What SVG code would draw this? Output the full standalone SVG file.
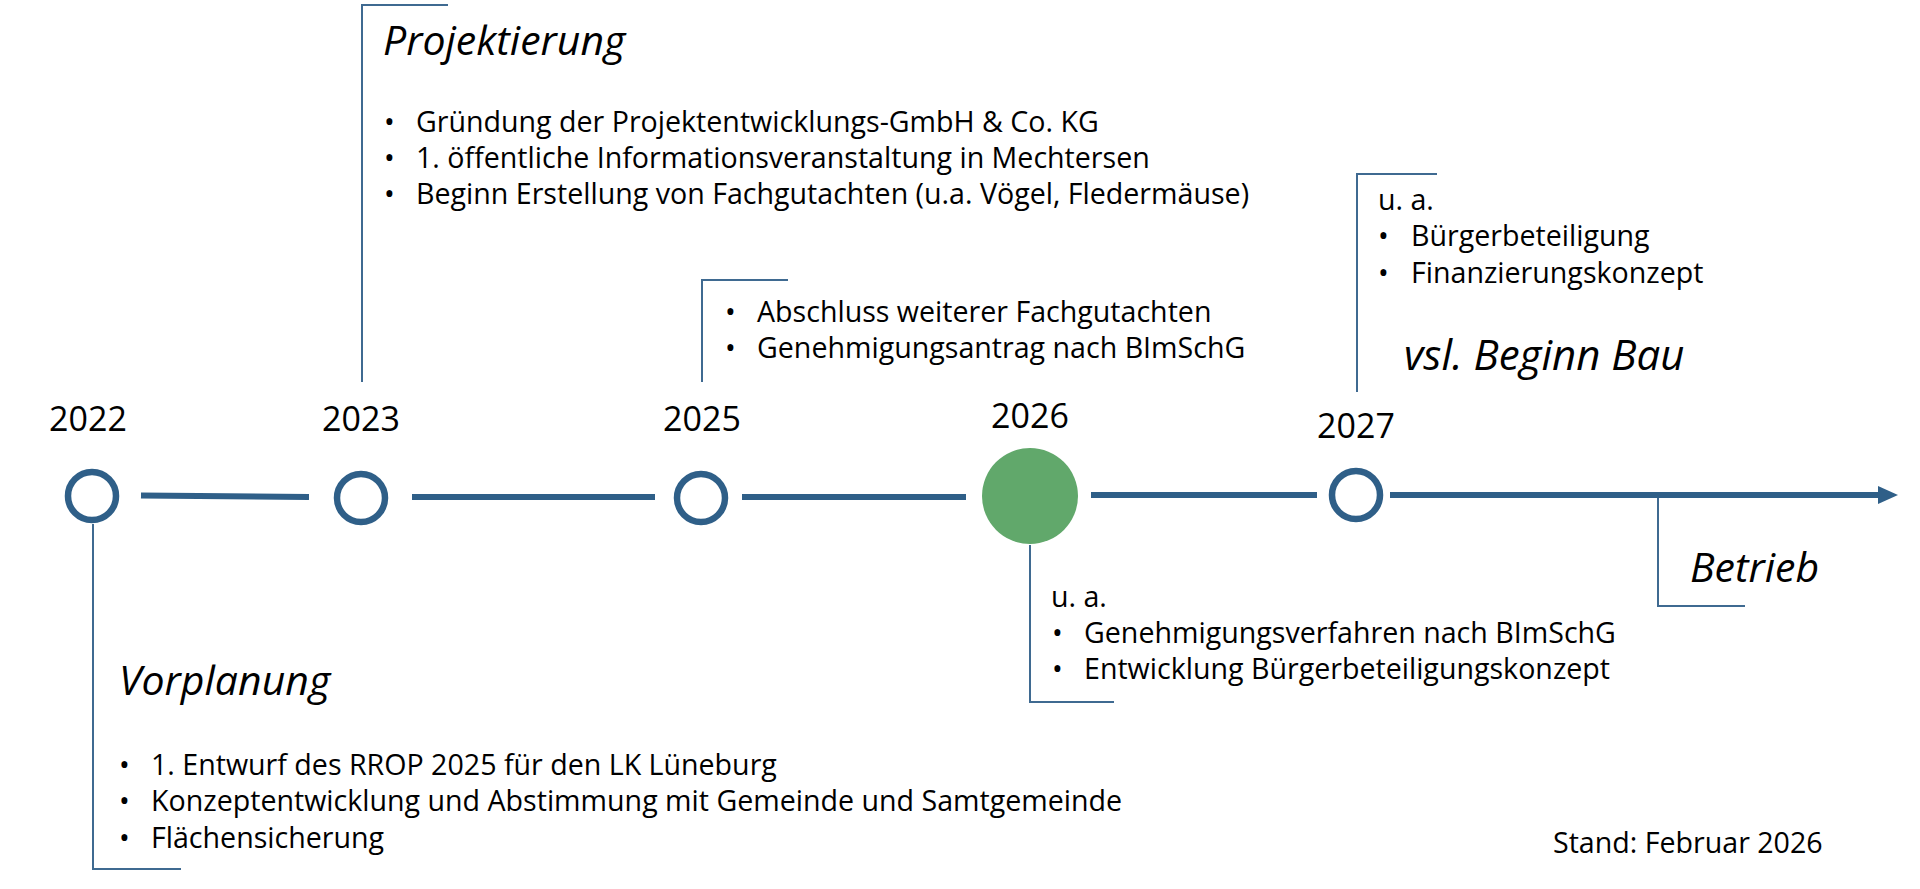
<svg xmlns="http://www.w3.org/2000/svg" width="1920" height="889" viewBox="0 0 1920 889">
<style>
text{font-family:"Open Sans","Noto Sans","DejaVu Sans",sans-serif;fill:#000}
.b{font-size:28.6px}
.h{font-size:41px;font-style:italic}
.y{font-size:34px;text-anchor:middle}
.ring{fill:#fff;stroke:#2f5f88;stroke-width:6.5}
.axis{stroke:#2f5f88;stroke-width:6;fill:none}
.conn{stroke:#3f6a91;stroke-width:2;fill:none}
</style>
<rect width="1920" height="889" fill="#fff"/>
<g id="connectors">
<line class="axis" x1="141" y1="495.5" x2="309" y2="497"/>
<line class="axis" x1="412" y1="497" x2="655" y2="497"/>
<line class="axis" x1="742" y1="497" x2="966" y2="497"/>
<line class="axis" x1="1091" y1="495" x2="1317" y2="495"/>
<line class="axis" x1="1390" y1="495" x2="1878" y2="495"/>
<path d="M1878,486 L1898,495 L1878,504 Z" fill="#2f5f88"/>
<path class="conn" d="M448,5 H362 V382"/>
<path class="conn" d="M788,280 H702 V382"/>
<path class="conn" d="M1437,174 H1357 V392"/>
<path class="conn" d="M1030,545 V702 H1114"/>
<path class="conn" d="M1658,498 V606 H1745"/>
<path class="conn" d="M93,524 V869 H181"/>
</g>
<g id="n2022">
<circle class="ring" cx="92" cy="496" r="24"/>
<text class="y" x="88" y="431">2022</text>
</g>
<g id="n2023">
<circle class="ring" cx="361" cy="498" r="24"/>
<text class="y" x="361" y="431">2023</text>
</g>
<g id="n2025">
<circle class="ring" cx="701" cy="498" r="24"/>
<text class="y" x="702" y="431">2025</text>
</g>
<g id="n2026">
<ellipse cx="1030" cy="496" rx="48" ry="48" fill="#61a86b"/>
<text class="y" x="1030" y="428">2026</text>
</g>
<g id="n2027">
<circle class="ring" cx="1356" cy="495" r="24"/>
<text class="y" x="1356" y="438">2027</text>
</g>
<g id="projektierung">
<text class="h" x="383" y="55">Projektierung</text>
<text class="b" x="384" y="132">•</text><text class="b" x="416" y="132">Gründung der Projektentwicklungs-GmbH &amp; Co. KG</text>
<text class="b" x="384" y="168">•</text><text class="b" x="416" y="168">1. öffentliche Informationsveranstaltung in Mechtersen</text>
<text class="b" x="384" y="204">•</text><text class="b" x="416" y="204">Beginn Erstellung von Fachgutachten (u.a. Vögel, Fledermäuse)</text>
</g>
<g id="t2025">
<text class="b" x="725" y="322">•</text><text class="b" x="757" y="322">Abschluss weiterer Fachgutachten</text>
<text class="b" x="725" y="358">•</text><text class="b" x="757" y="358">Genehmigungsantrag nach BImSchG</text>
</g>
<g id="t2027">
<text class="b" x="1378" y="210">u. a.</text>
<text class="b" x="1378" y="246">•</text><text class="b" x="1411" y="246">Bürgerbeteiligung</text>
<text class="b" x="1378" y="283">•</text><text class="b" x="1411" y="283">Finanzierungskonzept</text>
<text class="h" x="1404" y="370" style="font-size:42px">vsl. Beginn Bau</text>
</g>
<g id="t2026">
<text class="b" x="1051" y="607">u. a.</text>
<text class="b" x="1052" y="643">•</text><text class="b" x="1084" y="643">Genehmigungsverfahren nach BImSchG</text>
<text class="b" x="1052" y="679">•</text><text class="b" x="1084" y="679">Entwicklung Bürgerbeteiligungskonzept</text>
</g>
<g id="betrieb">
<text class="h" x="1690" y="582">Betrieb</text>
</g>
<g id="vorplanung">
<text class="h" x="119" y="695">Vorplanung</text>
<text class="b" x="119" y="775">•</text><text class="b" x="151" y="775">1. Entwurf des RROP 2025 für den LK Lüneburg</text>
<text class="b" x="119" y="811">•</text><text class="b" x="151" y="811">Konzeptentwicklung und Abstimmung mit Gemeinde und Samtgemeinde</text>
<text class="b" x="119" y="848">•</text><text class="b" x="151" y="848">Flächensicherung</text>
</g>
<g id="stand">
<text class="b" x="1553" y="853">Stand: Februar 2026</text>
</g>
</svg>
